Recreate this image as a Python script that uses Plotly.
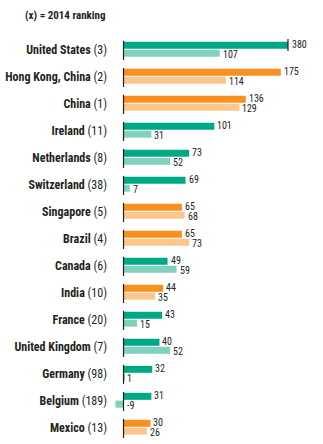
import plotly.graph_objects as go

countries = ["United States", "Hong Kong, China", "China", "Ireland", "Netherlands",
             "Switzerland", "Singapore", "Brazil", "Canada", "India", "France",
             "United Kingdom", "Germany", "Belgium", "Mexico"]
rank_2014 = [3, 2, 1, 11, 8, 38, 5, 4, 6, 10, 20, 7, 98, 189, 13]
values_2015 = [380, 175, 136, 101, 73, 69, 65, 65, 49, 44, 43, 40, 32, 31, 30]
values_2014 = [107, 114, 129, 31, 52, 7, 68, 73, 59, 35, 15, 52, 1, -9, 26]
group = ["dev", "dvg", "dvg", "dev", "dev", "dev", "dvg", "dvg", "dev", "dvg",
         "dev", "dev", "dev", "dev", "dvg"]

DARK = {"dev": "#00a886", "dvg": "#f7901e"}
LIGHT = {"dev": "#80d1bd", "dvg": "#fdc68c"}
FONT = "Roboto Condensed, Liberation Sans Narrow, Arial Narrow, sans-serif"
TXT = "#231f20"

XMIN, XMAX = -11.7, 183
BAR_W = 0.26

n = len(countries)
pos = list(range(n))

fig = go.Figure()
fig.add_trace(go.Bar(
    x=values_2015, y=pos, orientation="h", width=BAR_W, offset=-0.285,
    marker=dict(color=[DARK[g] for g in group], line=dict(width=0)),
    hoverinfo="x", showlegend=False,
))
fig.add_trace(go.Bar(
    x=values_2014, y=pos, orientation="h", width=BAR_W, offset=0.005,
    marker=dict(color=[LIGHT[g] for g in group], line=dict(width=0)),
    hoverinfo="x", showlegend=False,
))

shapes = []
annotations = []
for i in pos:
    # zero baseline segment for each country
    shapes.append(dict(type="line", xref="x", yref="y", x0=0, x1=0,
                       y0=i - 0.32, y1=i + 0.39, line=dict(color="#231f20", width=1.2)))
    for v, dy in ((values_2015[i], -0.18), (values_2014[i], 0.17)):
        ann = dict(y=i + dy, yref="y", text=str(v), showarrow=False,
                   xanchor="left", yanchor="middle", xshift=1,
                   font=dict(family=FONT, size=10, color=TXT))
        if v > XMAX:
            ann.update(x=1, xref="paper", xshift=2)
            # break marker where the bar runs past the axis
            shapes.append(dict(type="line", xref="paper", yref="y", x0=1, x1=1,
                               y0=i - 0.39, y1=i + 0.06,
                               line=dict(color="#231f20", width=1.2)))
        else:
            ann.update(x=max(v, 0), xref="x")
        annotations.append(ann)

annotations.append(dict(text="<b>(x) = 2014 ranking</b>", xref="paper", yref="paper",
                        x=-0.03, y=1.05, xanchor="right", yanchor="middle", showarrow=False,
                        font=dict(family=FONT, size=11, color=TXT)))

ticktext = [f"<b>{c}</b> ({r})" for c, r in zip(countries, rank_2014)]

fig.update_layout(
    width=323, height=444,
    margin=dict(l=113, r=35, t=35.5, b=2.5),
    paper_bgcolor="white", plot_bgcolor="white",
    barmode="overlay",
    shapes=shapes, annotations=annotations,
    xaxis=dict(range=[XMIN, XMAX], visible=False, fixedrange=True),
    yaxis=dict(range=[n - 0.5, -0.5], tickvals=pos, ticktext=ticktext,
               showgrid=False, zeroline=False, showline=False, ticks="",
               ticklabelstandoff=5, automargin=False,
               tickfont=dict(family=FONT, size=12, color=TXT), fixedrange=True),
    font=dict(family=FONT, color=TXT),
)

fig.write_html("out.html")
